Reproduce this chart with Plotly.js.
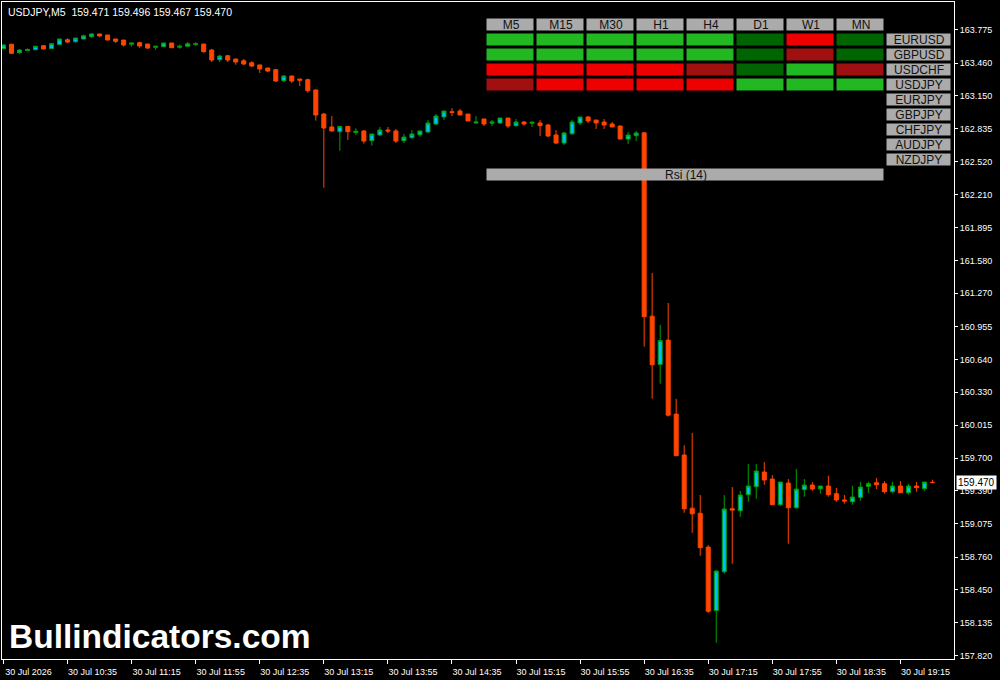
<!DOCTYPE html>
<html><head><meta charset="utf-8">
<script src="https://cdn.plot.ly/plotly-3.0.1.min.js"></script>
<style>html,body{margin:0;padding:0;background:#000;}#chart{width:1000px;height:680px;}</style>
</head><body><div id="chart"></div>
<script>
// ---- price data (USDJPY, M5) ----
const symbolLabel = 'USDJPY,M5';
const quoteValues = ['159.471', '159.496', '159.467', '159.470'];
const lastPrice = 159.470;
const dayLabel = '30 Jul';
const startMinute = 9 * 60 + 55;
const stepMinutes = 5;

const open = [
163.597,163.639,163.559,163.580,163.587,163.625,163.597,163.635,163.682,163.663,
163.689,163.711,163.737,163.727,163.689,163.679,163.639,163.654,163.641,163.610,
163.616,163.651,163.611,163.620,163.637,163.641,163.584,163.492,163.530,163.499,
163.482,163.463,163.442,163.413,163.397,163.292,163.337,163.308,163.302,163.204,
162.975,162.852,162.807,162.858,162.799,162.814,162.721,162.776,162.823,162.814,
162.721,162.750,162.778,162.804,162.880,162.947,162.997,163.004,162.975,162.890,
162.928,162.888,162.890,162.937,162.864,162.899,162.888,162.890,162.871,162.776,
162.699,162.788,162.890,162.947,162.918,162.899,162.880,162.861,162.737,162.769,
162.796,161.052,160.593,160.824,160.120,159.731,159.225,159.177,158.855,158.251,
158.620,159.220,159.201,159.353,159.429,159.569,159.502,159.258,159.464,159.229,
159.401,159.445,159.410,159.436,159.363,159.303,159.286,159.328,159.433,159.467,
159.458,159.382,159.436,159.372,159.436,159.410,159.471];
const high = [
163.637,163.644,163.594,163.600,163.622,163.632,163.651,163.692,163.696,163.700,
163.730,163.743,163.738,163.727,163.689,163.679,163.654,163.663,163.641,163.622,
163.653,163.651,163.635,163.660,163.658,163.641,163.594,163.540,163.537,163.499,
163.499,163.477,163.442,163.413,163.404,163.346,163.337,163.310,163.311,163.208,
162.985,162.956,162.861,162.861,162.839,162.823,162.785,162.852,162.852,162.833,
162.785,162.823,162.814,162.918,162.975,163.004,163.032,163.023,162.975,162.956,
162.928,162.918,162.937,162.937,162.928,162.909,162.909,162.918,162.880,162.823,
162.804,162.918,162.947,162.956,162.918,162.928,162.899,162.866,162.804,162.814,
162.802,161.462,160.969,161.178,160.265,159.824,159.940,159.351,158.874,158.632,
159.350,159.426,159.388,159.645,159.645,159.664,159.540,159.474,159.502,159.598,
159.502,159.474,159.436,159.534,159.417,159.350,159.439,159.474,159.477,159.512,
159.483,159.474,159.483,159.455,159.474,159.474,159.496];
const low = [
163.594,163.546,163.546,163.578,163.584,163.591,163.597,163.632,163.651,163.654,
163.689,163.701,163.708,163.679,163.651,163.616,163.616,163.606,163.594,163.587,
163.615,163.606,163.597,163.620,163.625,163.559,163.470,163.470,163.470,163.444,
163.442,163.423,163.365,163.375,163.280,163.280,163.270,163.242,163.178,162.912,
162.274,162.807,162.626,162.728,162.776,162.693,162.674,162.766,162.792,162.699,
162.699,162.740,162.759,162.795,162.871,162.918,162.956,162.966,162.909,162.880,
162.861,162.861,162.880,162.842,162.855,162.864,162.852,162.766,162.756,162.690,
162.680,162.776,162.871,162.890,162.833,162.833,162.852,162.737,162.690,162.718,
160.763,160.267,160.409,160.097,159.721,159.181,158.990,158.772,158.228,157.945,
158.601,158.696,159.144,159.284,159.315,159.448,159.255,159.248,158.887,159.220,
159.334,159.391,159.363,159.334,159.284,159.267,159.258,159.296,159.372,159.407,
159.363,159.372,159.372,159.353,159.382,159.391,159.467];
const close = [
163.632,163.553,163.584,163.589,163.620,163.594,163.644,163.689,163.660,163.698,
163.720,163.737,163.718,163.679,163.667,163.632,163.651,163.622,163.603,163.620,
163.651,163.606,163.620,163.644,163.643,163.568,163.489,163.527,163.489,163.470,
163.451,163.432,163.404,163.384,163.289,163.337,163.289,163.297,163.197,162.966,
162.842,162.814,162.858,162.807,162.812,162.718,162.785,162.823,162.814,162.718,
162.756,162.785,162.814,162.890,162.956,163.004,162.990,162.966,162.909,162.899,
162.880,162.899,162.937,162.861,162.899,162.880,162.896,162.864,162.766,162.699,
162.795,162.899,162.947,162.909,162.890,162.871,162.852,162.737,162.776,162.795,
161.046,160.589,160.821,160.110,159.724,159.219,159.171,158.849,158.244,158.627,
159.217,159.207,159.350,159.436,159.578,159.493,159.258,159.474,159.229,159.407,
159.445,159.407,159.436,159.353,159.303,159.293,159.331,159.426,159.458,159.448,
159.382,159.436,159.372,159.436,159.420,159.474,159.470];

// time categories (one 5-minute bar per entry)
const times = open.map((_, i) => {
  const m = startMinute + i * stepMinutes;
  return dayLabel + ' ' + String(Math.floor(m / 60)).padStart(2, '0') + ':' + String(m % 60).padStart(2, '0');
});

// axis ticks
const xTickTimes = ['30 Jul 09:55','30 Jul 10:35','30 Jul 11:15','30 Jul 11:55','30 Jul 12:35','30 Jul 13:15','30 Jul 13:55','30 Jul 14:35','30 Jul 15:15','30 Jul 15:55','30 Jul 16:35','30 Jul 17:15','30 Jul 17:55','30 Jul 18:35','30 Jul 19:15'];
const xTickLabels = ['30 Jul 2026','30 Jul 10:35','30 Jul 11:15','30 Jul 11:55','30 Jul 12:35','30 Jul 13:15','30 Jul 13:55','30 Jul 14:35','30 Jul 15:15','30 Jul 15:55','30 Jul 16:35','30 Jul 17:15','30 Jul 17:55','30 Jul 18:35','30 Jul 19:15'];
const yTicks = [163.775,163.460,163.150,162.835,162.520,162.210,161.895,161.580,161.270,160.955,160.640,160.330,160.015,159.700,159.390,159.075,158.760,158.450,158.135,157.820];

// ---- RSI dashboard ----
const timeframes = ['M5','M15','M30','H1','H4','D1','W1','MN'];
const pairs = ['EURUSD','GBPUSD','USDCHF','USDJPY','EURJPY','GBPJPY','CHFJPY','AUDJPY','NZDJPY'];
// G = strong up, g = weak up, R = strong down, r = weak down
const sigEURUSD = ['G','G','G','G','G','g','R','g'];
const sigGBPUSD = ['G','G','G','G','G','g','r','g'];
const sigUSDCHF = ['R','R','R','R','r','g','G','r'];
const sigUSDJPY = ['r','R','R','R','R','G','G','G'];
const indicatorLabel = 'Rsi (14)';

const stateCode = {r: 0, R: 1, g: 2, G: 3, box: 4};
const stateColors = ['#A01010', '#EC0000', '#006400', '#22B822', '#ABABAB'];

const signalRows = [sigEURUSD, sigGBPUSD, sigUSDCHF, sigUSDJPY];
const zGrid = [];
const tGrid = [];
zGrid.push(timeframes.map(() => stateCode.box).concat([null]));
tGrid.push(timeframes.concat(['']));
pairs.forEach((p, r) => {
  const sig = signalRows[r];
  const zr = timeframes.map((_, c) => sig ? stateCode[sig[c]] : null);
  zr.push(stateCode.box);
  zGrid.push(zr);
  tGrid.push(timeframes.map(() => '').concat([p]));
});
const colEdges = timeframes.map((_, i) => i).concat([timeframes.length, timeframes.length + 1.34]);
const rowEdges = zGrid.map((_, i) => i).concat([zGrid.length]);
const colorscale = stateColors.map((c, i) => [i / (stateColors.length - 1), c]);

const boxFont = {family: 'Liberation Sans, Arial, sans-serif', size: 12, color: '#111'};
const axisFont = {family: 'Liberation Sans, Arial, sans-serif', size: 9, color: '#ffffff'};

const traces = [
  {
    type: 'candlestick', x: times, open: open, high: high, low: low, close: close,
    increasing: {line: {color: '#00A000', width: 1}, fillcolor: '#00BFFF'},
    decreasing: {line: {color: '#FF4500', width: 1}, fillcolor: '#FF4500'},
    whiskerwidth: 0, hoverinfo: 'skip', showlegend: false
  },
  {
    type: 'heatmap', x: colEdges, y: rowEdges, z: zGrid, text: tGrid, texttemplate: '%{text}',
    textfont: boxFont, colorscale: colorscale, zmin: 0, zmax: 4, showscale: false,
    xgap: 3, ygap: 3, xaxis: 'x2', yaxis: 'y2', hoverinfo: 'skip'
  },
  {
    type: 'heatmap', x: [0, timeframes.length], y: [zGrid.length, zGrid.length + 1],
    z: [[stateCode.box]], text: [[indicatorLabel]], texttemplate: '%{text}',
    textfont: boxFont, colorscale: colorscale, zmin: 0, zmax: 4, showscale: false,
    xgap: 3, ygap: 3, xaxis: 'x2', yaxis: 'y2', hoverinfo: 'skip'
  }
];

const layout = {
  width: 1000, height: 680,
  margin: {l: 2, r: 46, t: 2, b: 21, pad: 0},
  paper_bgcolor: '#000000', plot_bgcolor: '#000000',
  showlegend: false,
  boxgap: 0.5, boxgroupgap: 0,
  xaxis: {
    type: 'category', range: [-0.1875, 118.69], showgrid: false, zeroline: false,
    showline: true, mirror: true, linecolor: '#ffffff', linewidth: 1,
    ticks: 'outside', ticklen: 4, tickcolor: '#ffffff', tickwidth: 1,
    tickvals: xTickTimes, ticktext: xTickLabels, tickfont: axisFont, tickangle: 0,
    ticklabelshift: 25, rangeslider: {visible: false}, fixedrange: true
  },
  yaxis: {
    side: 'right', range: [157.790, 164.041], showgrid: false, zeroline: false,
    showline: true, mirror: true, linecolor: '#ffffff', linewidth: 1,
    ticks: 'outside', ticklen: 3, tickcolor: '#ffffff',
    tickvals: yTicks, ticktext: yTicks.map(v => v.toFixed(3)), tickfont: axisFont, fixedrange: true
  },
  xaxis2: {overlaying: 'x', anchor: 'y2', range: [-9.67, 9.37], visible: false, fixedrange: true},
  yaxis2: {overlaying: 'y', anchor: 'x2', range: [42.767, -1.0333], visible: false, fixedrange: true},
  annotations: [
    {
      xref: 'paper', yref: 'paper', x: 0, y: 1, xanchor: 'left', yanchor: 'top', xshift: 4, yshift: -2,
      text: symbolLabel + '\u00a0\u00a0' + quoteValues.join(' '), showarrow: false,
      font: {family: 'Liberation Sans, Arial, sans-serif', size: 10.5, color: '#ffffff'}
    },
    {
      xref: 'paper', yref: 'paper', x: 0, y: 0, xanchor: 'left', yanchor: 'bottom', xshift: 5, yshift: 2,
      text: '<b>Bullindicators.com</b>', showarrow: false,
      font: {family: 'Liberation Sans, Arial, sans-serif', size: 33.5, color: '#ffffff'}
    },
    {
      xref: 'paper', yref: 'y', x: 1, y: lastPrice, xanchor: 'left', yanchor: 'middle', xshift: 2,
      text: lastPrice.toFixed(3), showarrow: false, bgcolor: '#ffffff', borderpad: 1,
      font: {family: 'Liberation Sans, Arial, sans-serif', size: 10, color: '#000000'}
    }
  ]
};

Plotly.newPlot('chart', traces, layout, {staticPlot: true, displayModeBar: false});
</script>
</body></html>
